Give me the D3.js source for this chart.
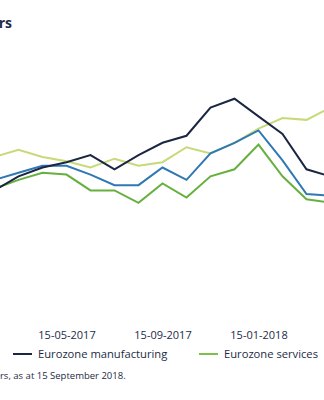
<!DOCTYPE html>
<html>
<head>
<meta charset="utf-8">
<script src="https://cdn.jsdelivr.net/npm/d3@7"></script>
<style>
  html, body { margin: 0; padding: 0; background: #ffffff; }
  svg { display: block; font-family: "Open Sans", "Noto Sans", sans-serif; }
</style>
</head>
<body>
<svg id="chart" width="324" height="400"></svg>
<script>
// Monthly readings, Feb 2017 to Apr 2018 (month index 1 = Feb 2017)
const months = [1, 2, 3, 4, 5, 6, 7, 8, 9, 10, 11, 12, 13, 14, 15];
const manufacturing = [55.4, 56.2, 56.7, 57.0, 57.4, 56.6, 57.4, 58.1, 58.5, 60.1, 60.6, 59.6, 58.6, 56.6, 56.2];
const services      = [55.5, 56.0, 56.4, 56.3, 55.4, 55.4, 54.7, 55.8, 55.0, 56.2, 56.6, 58.0, 56.2, 54.9, 54.7];
const composite     = [56.0, 56.4, 56.8, 56.8, 56.3, 55.7, 55.7, 56.7, 56.0, 57.5, 58.1, 58.8, 57.1, 55.2, 55.1];
const sentiment     = [57.3, 57.7, 57.3, 57.05, 56.7, 57.2, 56.8, 57.0, 57.85, 57.5, 58.1, 58.9, 59.5, 59.4, 60.1];

// Axis ticks
const xTickMonths = [0, 4, 8, 12];
const xTickLabels = ["15-01-2017", "15-05-2017", "15-09-2017", "15-01-2018"];
const yTicks = [48, 50, 52, 54, 56, 58, 60, 62];

const svg = d3.select("#chart");
const W = 324;

const x = d3.scaleLinear().domain([0, 12]).range([-29.5, 258.5]);
const y = d3.scaleLinear().domain([48, 62]).range([321, 74]);

// Horizontal gridlines
svg.append("g")
  .call(d3.axisLeft(y).tickValues(yTicks).tickSize(-W * 2).tickFormat(""))
  .call(g => g.select(".domain").remove())
  .call(g => g.selectAll(".tick line")
    .attr("stroke", "#dedede").attr("stroke-width", 1.5)
    .attr("transform", "translate(" + W + ",0)"));

// Date labels along the bottom
svg.append("g")
  .attr("transform", "translate(0,328)")
  .call(d3.axisBottom(x).tickValues(xTickMonths).tickSize(0)
    .tickFormat((d, i) => xTickLabels[i]))
  .call(g => g.select(".domain").remove())
  .call(g => g.selectAll("text")
    .attr("fill", "#1d2b45").attr("font-size", 11)
    .attr("font-family", "'Open Sans', sans-serif"));

// Series lines
const series = [
  { values: sentiment, color: "#c6da79" },
  { values: services, color: "#66b040" },
  { values: composite, color: "#2f78b4" },
  { values: manufacturing, color: "#1b2642" }
];

const line = d3.line()
  .x((d, i) => x(months[i]))
  .y(d => y(d));

svg.append("g").selectAll("path")
  .data(series)
  .join("path")
  .attr("d", d => line(d.values))
  .attr("fill", "none")
  .attr("stroke", d => d.color)
  .attr("stroke-width", 2)
  .attr("stroke-linejoin", "miter");

// Legend
const legend = [
  { label: "Eurozone manufacturing", color: "#1b2642", x: 13 },
  { label: "Eurozone services", color: "#7cc04c", x: 199 }
];
const lg = svg.append("g").selectAll("g")
  .data(legend)
  .join("g")
  .attr("transform", d => "translate(" + d.x + ",354)");
lg.append("line")
  .attr("x1", 0).attr("x2", 19)
  .attr("stroke", d => d.color).attr("stroke-width", 2);
lg.append("text")
  .attr("x", 25).attr("dy", "0.35em")
  .attr("font-size", 11.2).attr("fill", "#1d2b45")
  .text(d => d.label);

// Title, aligned so that it runs from the left
const title = svg.append("text")
  .attr("y", 28)
  .attr("font-size", 14).attr("font-weight", "bold").attr("fill", "#1d2b45")
  .text("Business sentiment indicators");
const titleFull = title.node().getComputedTextLength();
title.attr("x", 12 - titleFull);

// Source note
const noteSize = 9.5;
const note = svg.append("text")
  .attr("y", 379)
  .attr("font-size", noteSize).attr("fill", "#1d2b45")
  .text("Source: Thomson Reuters, as at 15 September 2018.");
const probe = svg.append("text").attr("font-size", noteSize).text("Source: Thomson Reute");
const prefix = probe.node().getComputedTextLength();
probe.remove();
note.attr("x", -prefix);
</script>
</body>
</html>
